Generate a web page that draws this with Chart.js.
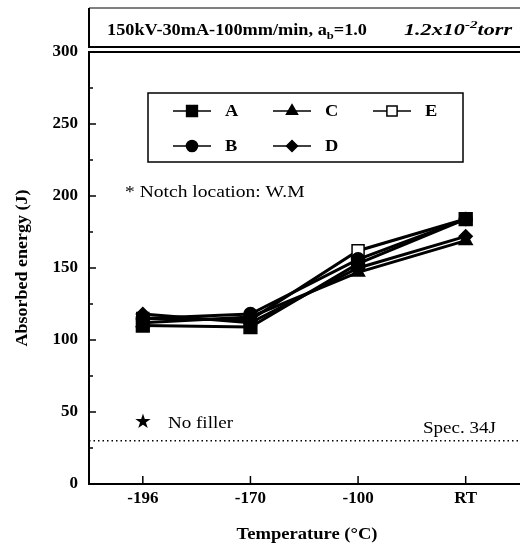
<!DOCTYPE html>
<html>
<head>
<meta charset="utf-8">
<script src="https://cdn.jsdelivr.net/npm/chart.js@4"></script>
<style>
html,body{margin:0;padding:0;background:#fff;overflow:hidden;width:520px;height:543px;}
canvas{display:block;}
</style>
</head>
<body>
<canvas id="c" width="530" height="543" style="width:530px;height:543px"></canvas>
<script>
const categories = ['-196', '-170', '-100', 'RT'];
const seriesNames = ['A', 'B', 'C', 'D', 'E'];
const seriesA = [110, 109, 153, 184];
const seriesB = [115, 118, 156, 184];
const seriesC = [112, 116, 147, 169];
const seriesD = [118, 112, 150, 172];
const seriesE = [115, 114, 162, 184];
const specValue = 30;
const yMin = 0, yMax = 300, yStep = 50, yMinorStep = 25;

const F = 'Liberation Serif';

function ds(label, data, style, radius, fill) {
  return {
    label, data,
    borderColor: '#000', borderWidth: 3,
    pointStyle: style, pointRadius: radius,
    pointBackgroundColor: fill, pointBorderColor: '#000', pointBorderWidth: 1.5,
    tension: 0, fill: false
  };
}

const datasets = [
  ds(seriesNames[0], seriesA, 'rect', 9, '#000'),
  ds(seriesNames[1], seriesB, 'circle', 6.5, '#000'),
  ds(seriesNames[2], seriesC, 'triangle', 7.5, '#000'),
  ds(seriesNames[3], seriesD, 'rectRot', 6.5, '#000'),
  ds(seriesNames[4], seriesE, 'rect', 8.5, '#fff')
];

function drawScaled(ctx, text, x, y, s) {
  const w = ctx.measureText(text).width;
  ctx.save();
  ctx.translate(x, y);
  ctx.scale(s, 1);
  ctx.fillText(text, 0, 0);
  ctx.restore();
  return w * s;
}

// draws a run of [text, font, dy] parts, scaled so the whole run spans targetW
function drawRun(ctx, parts, x, y, targetW) {
  let total = 0;
  parts.forEach(p => { ctx.font = p[1]; total += ctx.measureText(p[0]).width; });
  const s = targetW / total;
  parts.forEach(p => { ctx.font = p[1]; x += drawScaled(ctx, p[0], x, y + p[2], s); });
}

const decor = {
  id: 'decor',
  afterDraw(chart) {
    const ctx = chart.ctx;
    const ca = chart.chartArea;
    const ys = chart.scales.y, xs = chart.scales.x;
    const W = chart.width;
    ctx.save();
    ctx.strokeStyle = '#000';
    ctx.fillStyle = '#000';
    // inward y ticks
    ctx.lineWidth = 1.5;
    for (let v = yMin; v <= yMax; v += yMinorStep) {
      const py = ys.getPixelForValue(v);
      const len = (v % yStep === 0) ? 7 : 4;
      ctx.beginPath(); ctx.moveTo(ca.left, py); ctx.lineTo(ca.left + len, py); ctx.stroke();
    }
    // inward x ticks
    categories.forEach((c, i) => {
      const px = xs.getPixelForValue(i);
      ctx.beginPath(); ctx.moveTo(px, ca.bottom); ctx.lineTo(px, ca.bottom - 8); ctx.stroke();
    });
    // spec dotted line
    const sy = ys.getPixelForValue(specValue);
    ctx.lineWidth = 1.5;
    ctx.setLineDash([1.5, 3]);
    ctx.beginPath(); ctx.moveTo(ca.left, sy); ctx.lineTo(W, sy); ctx.stroke();
    ctx.setLineDash([]);
    // top double line and title box
    const topY = ys.getPixelForValue(yMax);
    ctx.lineWidth = 2;
    ctx.beginPath(); ctx.moveTo(ca.left, topY); ctx.lineTo(W, topY); ctx.stroke();
    ctx.beginPath(); ctx.moveTo(ca.left - 1, topY - 5); ctx.lineTo(W, topY - 5); ctx.stroke();
    ctx.beginPath(); ctx.moveTo(ca.left, topY - 5); ctx.lineTo(ca.left, 8); ctx.stroke();
    ctx.lineWidth = 1;
    ctx.beginPath(); ctx.moveTo(ca.left, 8); ctx.lineTo(W, 8); ctx.stroke();

    // title
    ctx.textBaseline = 'alphabetic';
    ctx.textAlign = 'left';
    const by = 35;
    const b16 = 'bold 16px "' + F + '"', b11 = 'bold 11px "' + F + '"';
    const i16 = 'italic bold 16px "' + F + '"', i11 = 'italic bold 11px "' + F + '"';
    drawRun(ctx, [['150kV-30mA-100mm/min, a', b16, 0], ['b', b11, 4], ['=1.0', b16, 0]], 107, by, 260);
    drawRun(ctx, [['1.2x10', i16, 0], ['-2', i11, -7], ['torr', i16, 0]], 404, by, 108);

    // axis titles
    ctx.font = 'bold 17px "' + F + '"';
    ctx.save();
    ctx.translate(27, (ca.top + ca.bottom) / 2);
    ctx.rotate(-Math.PI / 2);
    ctx.textAlign = 'center';
    const yt = 'Absorbed energy (J)';
    ctx.scale(157 / ctx.measureText(yt).width, 1);
    ctx.fillText(yt, 0, 0);
    ctx.restore();
    ctx.save();
    ctx.translate(307, 539);
    ctx.textAlign = 'center';
    const xt = 'Temperature (\u00B0C)';
    ctx.scale(141 / ctx.measureText(xt).width, 1);
    ctx.fillText(xt, 0, 0);
    ctx.restore();

    // legend box
    ctx.lineWidth = 1.5;
    ctx.strokeRect(148, 93, 315, 69);
    const legendPos = [
      [173, 111], [173, 146], [273, 111], [273, 146], [373, 111]
    ];
    ctx.font = 'bold 16px "' + F + '"';
    ctx.textBaseline = 'middle';
    chart.data.datasets.forEach((d, i) => {
      const [lx, ly] = legendPos[i];
      ctx.lineWidth = 1.5;
      ctx.strokeStyle = '#000';
      ctx.beginPath(); ctx.moveTo(lx, ly); ctx.lineTo(lx + 38, ly); ctx.stroke();
      const opts = {
        pointStyle: d.pointStyle, radius: d.pointRadius * 0.85, rotation: 0,
        borderWidth: d.pointBorderWidth
      };
      ctx.fillStyle = d.pointBackgroundColor;
      ctx.strokeStyle = d.pointBorderColor;
      ctx.lineWidth = d.pointBorderWidth;
      Chart.helpers.drawPoint(ctx, opts, lx + 19, ly);
      ctx.fillStyle = '#000';
      drawScaled(ctx, d.label, lx + 52, ly + 1, 1.15);
    });

    // annotations
    ctx.fillStyle = '#000';
    ctx.font = '17px "' + F + '"';
    drawScaled(ctx, '* Notch location: W.M', 125, 193, 1.15);
    ctx.font = '20px "DejaVu Sans"';
    ctx.textAlign = 'center';
    ctx.fillText('\u2605', 143, 423);
    ctx.textAlign = 'left';
    ctx.font = '17px "' + F + '"';
    drawScaled(ctx, 'No filler', 168, 424, 1.12);
    drawScaled(ctx, 'Spec. 34J', 423, 429, 1.12);
    ctx.restore();
  }
};

new Chart(document.getElementById('c'), {
  type: 'line',
  data: { labels: categories, datasets },
  options: {
    responsive: false,
    animation: false,
    devicePixelRatio: 1,
    layout: { padding: { left: 0, top: 52, right: 5, bottom: 0 } },
    plugins: { legend: { display: false }, tooltip: { enabled: false } },
    scales: {
      x: {
        type: 'category',
        offset: true,
        grid: { display: true, drawOnChartArea: false, drawTicks: false },
        border: { display: true, color: '#000', width: 2 },
        ticks: { color: '#000', padding: 4, font: { family: F, size: 17, weight: 'bold' }, maxRotation: 0 },
        title: { display: false },
        afterFit(s) { s.height = 59; }
      },
      y: {
        min: yMin, max: yMax,
        grid: { display: true, drawOnChartArea: false, drawTicks: false },
        border: { display: true, color: '#000', width: 2 },
        ticks: { stepSize: yStep, color: '#000', padding: 11, font: { family: F, size: 17, weight: 'bold' } },
        title: { display: false },
        afterFit(s) { s.width = 89; }
      }
    }
  },
  plugins: [decor]
});
</script>
</body>
</html>
